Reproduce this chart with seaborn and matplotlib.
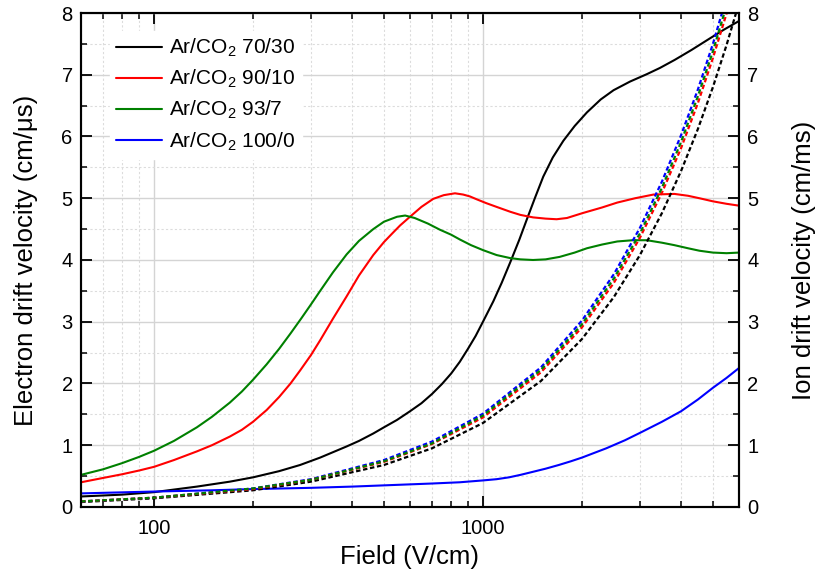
import numpy as np
import pandas as pd
import matplotlib
matplotlib.use("Agg")
import matplotlib.pyplot as plt
from matplotlib.ticker import FixedLocator, FixedFormatter, MultipleLocator, LogLocator, NullFormatter
import seaborn as sns

# ---------------- data ----------------
gases = ["Ar/CO$_2$ 70/30", "Ar/CO$_2$ 90/10", "Ar/CO$_2$ 93/7", "Ar/CO$_2$ 100/0"]
colors = ["#000000", "#ff0000", "#008000", "#0000ff"]

# electron drift velocity (cm/us)
e_field_7030 = [60, 80, 100, 135, 170, 200, 240, 278, 320, 385, 420, 464, 500, 548, 600, 650, 700, 750, 800, 850, 900,
                950, 1000, 1075, 1140, 1212, 1290, 1360, 1440, 1525, 1630, 1755, 1900, 2070, 2280, 2495, 2800, 3150,
                3450, 3825, 4300, 4900, 5400, 6000]
e_vel_7030 = [0.17, 0.20, 0.24, 0.33, 0.41, 0.48, 0.58, 0.68, 0.80, 0.98, 1.07, 1.19, 1.29, 1.41, 1.55, 1.68, 1.83, 1.99, 2.16, 2.35, 2.56,
              2.77, 3.00, 3.33, 3.63, 3.97, 4.33, 4.66, 5.01, 5.35, 5.66, 5.93, 6.17, 6.39, 6.60, 6.75, 6.89, 7.01,
              7.11, 7.24, 7.40, 7.59, 7.73, 7.87]

e_field_9010 = [60, 70, 80, 90, 100, 115, 135, 150, 170, 185, 200, 220, 240, 260, 278, 300, 320, 350, 385, 420, 464, 500,
                530, 560, 600, 650, 706, 760, 822, 870, 912, 960, 1024, 1100, 1212, 1300, 1420, 1550, 1675, 1800, 2010,
                2300, 2560, 2900, 3300, 3820, 4200, 4550, 5000, 5500, 6000]
e_vel_9010 = [0.40, 0.47, 0.53, 0.59, 0.65, 0.76, 0.90, 1.00, 1.14, 1.25, 1.38, 1.57, 1.78, 2.00, 2.21, 2.46, 2.70, 3.05, 3.41, 3.75, 4.08, 4.29,
              4.43, 4.56, 4.70, 4.86, 4.99, 5.05, 5.08, 5.06, 5.03, 4.98, 4.92, 4.86, 4.78, 4.73, 4.69, 4.67, 4.66, 4.68, 4.76,
              4.85, 4.93, 5.00, 5.06, 5.07, 5.04, 5.00, 4.95, 4.91, 4.88]

e_field_937 = [60, 70, 80, 90, 100, 115, 135, 150, 170, 185, 200, 220, 240, 260, 280, 300, 320, 350, 385, 420, 464, 500,
               548, 580, 620, 680, 740, 800, 852, 920, 1000, 1100, 1212, 1300, 1420, 1550, 1710, 1900, 2070, 2300, 2560,
               2850, 3150, 3500, 3820, 4200, 4550, 5000, 5500, 6000]
e_vel_937 = [0.52, 0.61, 0.71, 0.81, 0.91, 1.07, 1.29, 1.46, 1.69, 1.87, 2.06, 2.31, 2.56, 2.81, 3.05, 3.28, 3.50, 3.80, 4.09, 4.31, 4.50, 4.62,
             4.70, 4.72, 4.68, 4.59, 4.49, 4.41, 4.33, 4.24, 4.16, 4.08, 4.03, 4.01, 4.00, 4.01, 4.05, 4.12, 4.19, 4.25, 4.30,
             4.32, 4.32, 4.28, 4.24, 4.19, 4.15, 4.12, 4.11, 4.12]

e_field_1000 = [60, 100, 150, 200, 300, 400, 500, 700, 850, 1000, 1100, 1200, 1300, 1420, 1550, 1700, 1850, 2000, 2370, 2700,
                3000, 3500, 4000, 4500, 5000, 5500, 6000]
e_vel_1000 = [0.22, 0.25, 0.27, 0.29, 0.31, 0.33, 0.35, 0.38, 0.40, 0.43, 0.45, 0.48, 0.52, 0.57, 0.62, 0.68, 0.74, 0.80, 0.95, 1.08,
              1.20, 1.38, 1.55, 1.74, 1.93, 2.09, 2.25]

# ion drift velocity (cm/ms)
i_field = [60, 100, 200, 300, 500, 700, 1000, 1500, 2000, 2500, 3000, 3500, 4000, 4500, 5000, 5500, 6000]
i_vel_7030 = [0.08, 0.14, 0.27, 0.41, 0.68, 0.95, 1.36, 2.04, 2.72, 3.40, 4.08, 4.76, 5.44, 6.12, 6.80, 7.48, 8.16]
i_vel_9010 = [0.09, 0.15, 0.29, 0.44, 0.73, 1.02, 1.45, 2.18, 2.91, 3.63, 4.36, 5.09, 5.81, 6.54, 7.27, 7.99, 8.72]
i_vel_937 = [0.09, 0.15, 0.30, 0.44, 0.74, 1.03, 1.48, 2.22, 2.96, 3.70, 4.43, 5.17, 5.91, 6.65, 7.38, 8.12, 8.86]
i_vel_1000 = [0.09, 0.15, 0.30, 0.45, 0.76, 1.06, 1.51, 2.26, 3.02, 3.77, 4.52, 5.27, 6.02, 6.76, 7.50, 8.25, 9.00]

# ---------------- build tables ----------------
e_sets = [(e_field_7030, e_vel_7030), (e_field_9010, e_vel_9010), (e_field_937, e_vel_937), (e_field_1000, e_vel_1000)]
df_e = pd.concat([pd.DataFrame({"field": f, "v": v, "gas": g}) for (f, v), g in zip(e_sets, gases)], ignore_index=True)
i_sets = [i_vel_7030, i_vel_9010, i_vel_937, i_vel_1000]
df_i = pd.concat([pd.DataFrame({"field": i_field, "v": v, "gas": g}) for v, g in zip(i_sets, gases)], ignore_index=True)

# ---------------- style ----------------
sns.set_theme(style="ticks")
plt.rcParams["font.family"] = ["Liberation Sans", "DejaVu Sans"]
plt.rcParams["mathtext.fontset"] = "custom"
plt.rcParams["mathtext.rm"] = "Liberation Sans"
plt.rcParams["mathtext.it"] = "Liberation Sans"
plt.rcParams["mathtext.default"] = "regular"
for k in ["text.color", "axes.labelcolor", "xtick.color", "ytick.color", "axes.edgecolor"]:
    plt.rcParams[k] = "black"

fig = plt.figure(figsize=(8.15, 5.83), dpi=100)
ax = fig.add_axes([0.0994, 0.1304, 0.8073, 0.8473])
ax2 = ax.twinx()

palette = dict(zip(gases, colors))
sns.lineplot(data=df_e, x="field", y="v", hue="gas", palette=palette, hue_order=gases,
             ax=ax, sort=True, estimator=None, linewidth=1.5)

# ion lines: draw order black, blue, red, green
ion_order = [gases[0], gases[3], gases[1], gases[2]]
for g in ion_order:
    sub = df_i[df_i["gas"] == g]
    sns.lineplot(data=sub, x="field", y="v", color=palette[g], ax=ax2, sort=True,
                 estimator=None, linewidth=1.6, legend=False, linestyle=(0, (2.0, 1.2)))

for a in (ax, ax2):
    a.set_xscale("log")
    a.set_xlim(60, 6000)
    a.set_ylim(0, 8)

ax.xaxis.set_major_locator(FixedLocator([100, 1000]))
ax.xaxis.set_major_formatter(FixedFormatter(["100", "1000"]))
ax.xaxis.set_minor_locator(LogLocator(base=10, subs=np.arange(2, 10)))
ax.xaxis.set_minor_formatter(NullFormatter())
for a in (ax, ax2):
    a.yaxis.set_major_locator(MultipleLocator(1))
    a.yaxis.set_minor_locator(MultipleLocator(0.5))

ax.grid(which="major", color="#d4d4d4", linestyle="-", linewidth=1.0)
ax.grid(which="minor", color="#dcdcdc", linestyle=(0, (2, 2)), linewidth=0.8)
ax.set_axisbelow(True)
ax2.grid(False)

ax.tick_params(axis="both", which="major", direction="in", length=8, width=1.3, labelsize=14.5,
               top=True, right=False, pad=6, colors="black")
ax.tick_params(axis="both", which="minor", direction="in", length=4.5, width=1.1, top=True, right=False)
ax2.tick_params(axis="y", which="major", direction="in", length=8, width=1.3, labelsize=14.5, pad=6, colors="black")
ax2.tick_params(axis="y", which="minor", direction="in", length=4.5, width=1.1)
ax.tick_params(axis="x", which="major", pad=9)

for a in (ax, ax2):
    for s in a.spines.values():
        s.set_linewidth(1.5)
        s.set_color("black")

ax.set_xlabel("Field (V/cm)", fontsize=18.5, labelpad=5)
ax.set_ylabel("Electron drift velocity (cm/μs)", fontsize=18.5, labelpad=17)
ax2.set_ylabel("Ion drift velocity (cm/ms)", fontsize=18.5, labelpad=24)

handles, labels = ax.get_legend_handles_labels()
leg = ax.legend(handles, labels, loc="upper left", bbox_to_anchor=(0.028, 0.985), frameon=True,
                fontsize=15, handlelength=2.2, handletextpad=0.35, labelspacing=0.42,
                borderpad=0.3, facecolor="white", edgecolor="white", framealpha=1.0)
for line in leg.get_lines():
    line.set_linewidth(1.5)

fig.savefig("out.png", dpi=100)
